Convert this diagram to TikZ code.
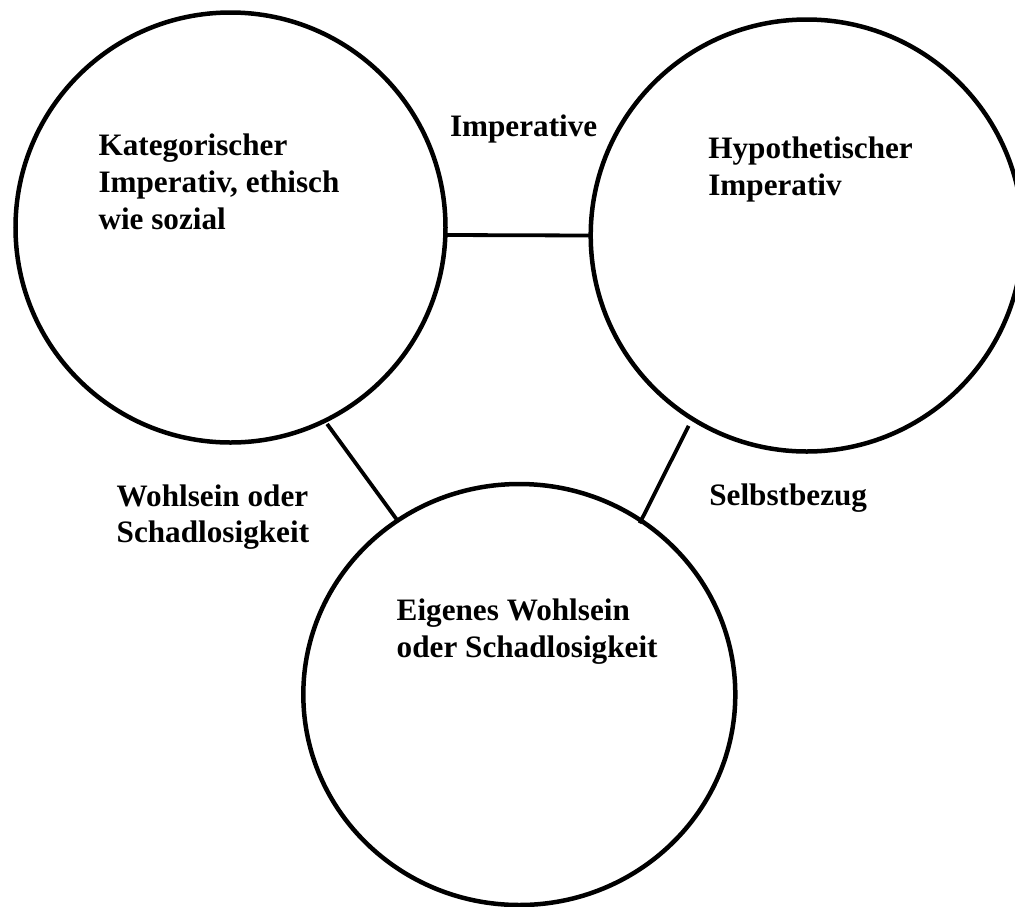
\documentclass[tikz,border=0pt]{standalone}
\usepackage{fontspec}
\setmainfont{Liberation Serif}
\usetikzlibrary{shapes.geometric}
\tikzset{
  ring/.style={circle, draw=black, line width=4.5pt, inner sep=0pt, outer sep=0pt},
  oval/.style={ellipse, draw=black, line width=4.5pt, inner sep=0pt, outer sep=0pt},
  link/.style={draw=black, line width=3.8pt},
  lbl/.style={anchor=base west, inner sep=0pt, outer sep=0pt, font=\fontsize{31.2}{36.7}\selectfont\bfseries}
}
\newcommand{\lines}[1]{\begin{tabular}[t]{@{}l@{}}#1\end{tabular}}
\begin{document}
\begin{tikzpicture}[x=1pt,y=-1pt]
\useasboundingbox (0,0) rectangle (1015,906);
\fill[white] (0,0) rectangle (1015,906);
\clip (0,0) rectangle (1015,906);
\node[ring, minimum size=430pt] (L) at (230.5,227.5) {};
\node[ring, minimum size=432pt] (R) at (806.7,235.5) {};
\node[oval, minimum width=432pt, minimum height=421pt] (B) at (519.3,694.5) {};
\draw[link] (L.-2) -- (R.west);
\draw[link, shorten <=4pt] (L.-64) -- (B.125);
\draw[link, shorten <=8pt, shorten >=-3pt] (R.-122) -- (B.55);
\node[lbl] (tL) at (98.5,155.7) {\lines{Kategorischer\\Imperativ, ethisch\\wie sozial}};
\node[lbl] (tI) at (450,136) {Imperative};
\node[lbl] (tR) at (708.3,158.3) {\lines{Hypothetischer\\Imperativ}};
\node[lbl] (tW) at (116.7,506) {\lines{Wohlsein oder\\Schadlosigkeit}};
\node[lbl] (tS) at (709.3,505) {Selbstbezug};
\node[lbl] (tB) at (396.7,620.7) {\lines{Eigenes Wohlsein\\oder Schadlosigkeit}};
\end{tikzpicture}
\end{document}
